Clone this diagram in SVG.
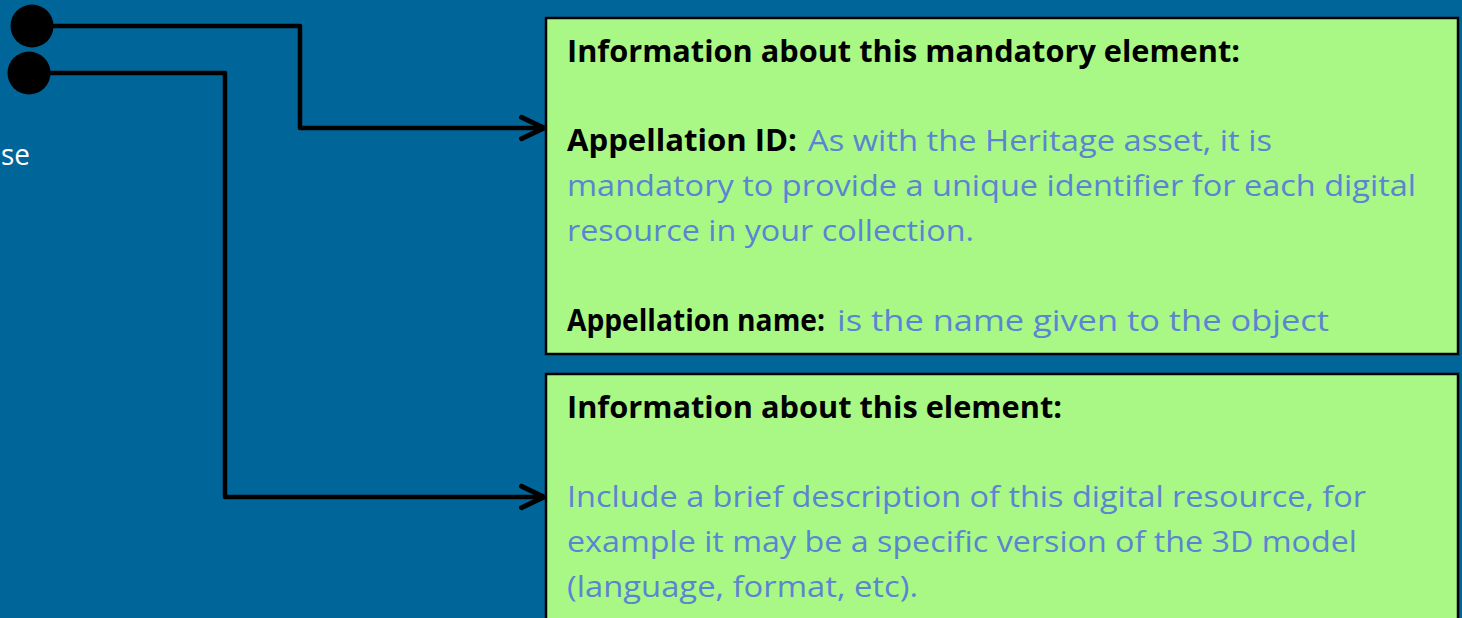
<svg xmlns="http://www.w3.org/2000/svg" width="1462" height="618" viewBox="0 0 1462 618">
<defs>
<style>
.box{fill:#A9F885;stroke:#000;stroke-width:2.5}
.t{font-family:"Open Sans","Noto Sans",sans-serif;font-size:30px}
.b{font-weight:bold;fill:#000}
.n{fill:#5B84D2}
.conn{fill:none;stroke:#000;stroke-width:4.5;stroke-linejoin:round}
</style>
<marker id="arr" markerUnits="userSpaceOnUse" markerWidth="30" markerHeight="30" viewBox="-24 -14 28 28" refX="0" refY="0" orient="auto">
<path d="M-21,-10 L0,0 L-21,10" fill="none" stroke="#000" stroke-width="4.5" stroke-linecap="round" stroke-linejoin="round"/>
</marker>
</defs>
<rect width="1462" height="618" fill="#006699"/>
<text x="1" y="165" font-family="'Open Sans','Noto Sans',sans-serif" font-size="29" fill="#fff" textLength="29" lengthAdjust="spacingAndGlyphs">se</text>
<g id="connectors">
<path class="conn" d="M45,26 H300 V128 H544" marker-end="url(#arr)"/>
<path class="conn" d="M45,73 H225 V497 H544" marker-end="url(#arr)"/>
</g>
<g id="dot1"><circle cx="32" cy="26" r="21.5" fill="#000"/></g>
<g id="dot2"><circle cx="29" cy="73" r="21.5" fill="#000"/></g>
<g id="box1">
<rect class="box" x="546" y="18" width="912" height="336"/>
<text class="t b" x="567" y="62" textLength="673" lengthAdjust="spacingAndGlyphs">Information about this mandatory element:</text>
<text class="t" y="151"><tspan class="b" x="567" textLength="230" lengthAdjust="spacingAndGlyphs">Appellation ID:</tspan><tspan class="n" x="808" textLength="464" lengthAdjust="spacingAndGlyphs">As with the Heritage asset, it is</tspan></text>
<text class="t n" x="567" y="196" textLength="849" lengthAdjust="spacingAndGlyphs">mandatory to provide a unique identifier for each digital</text>
<text class="t n" x="567" y="241" textLength="407" lengthAdjust="spacingAndGlyphs">resource in your collection.</text>
<text class="t" y="331"><tspan class="b" x="567" textLength="258" lengthAdjust="spacingAndGlyphs">Appellation name:</tspan><tspan class="n" x="837" textLength="492" lengthAdjust="spacingAndGlyphs">is the name given to the object</tspan></text>
</g>
<g id="box2">
<rect class="box" x="546" y="374" width="912" height="270"/>
<text class="t b" x="567" y="418" textLength="495" lengthAdjust="spacingAndGlyphs">Information about this element:</text>
<text class="t n" x="567" y="507" textLength="799" lengthAdjust="spacingAndGlyphs">Include a brief description of this digital resource, for</text>
<text class="t n" x="567" y="552" textLength="790" lengthAdjust="spacingAndGlyphs">example it may be a specific version of the 3D model</text>
<text class="t n" x="567" y="597" textLength="351" lengthAdjust="spacingAndGlyphs">(language, format, etc).</text>
</g>
</svg>
